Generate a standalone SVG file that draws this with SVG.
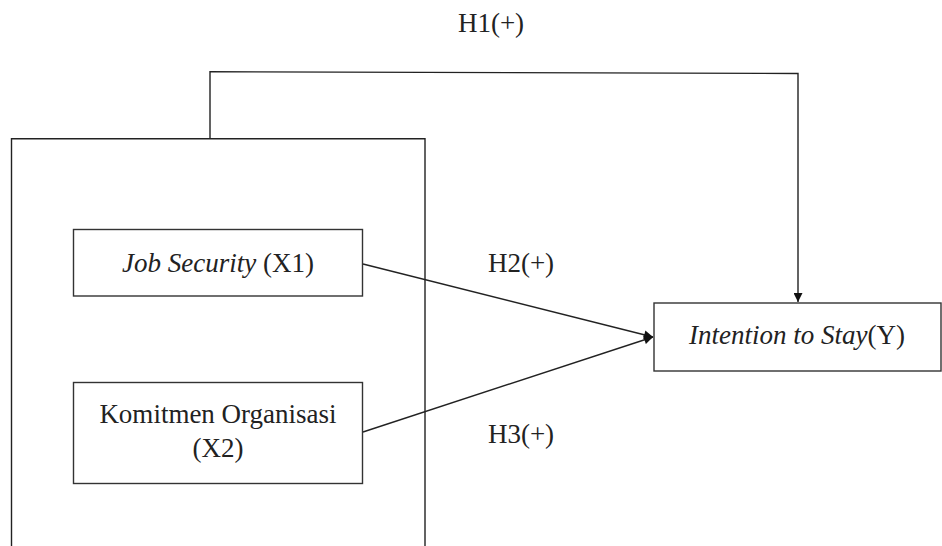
<svg xmlns="http://www.w3.org/2000/svg" width="942" height="546" viewBox="0 0 942 546">
<style>
.box{fill:#fff;stroke:#333;stroke-width:1.4}
.ln{fill:none;stroke:#222;stroke-width:1.4}
.t{font-family:"Liberation Serif","Times New Roman",serif;font-size:27px;fill:#222;text-anchor:middle}
.i{font-style:italic}
</style>
<defs>
<marker id="ah" viewBox="0 0 10 10" refX="10" refY="5" markerWidth="10" markerHeight="9" markerUnits="userSpaceOnUse" orient="auto">
<path d="M0,0 L10,5 L0,10 z" fill="#111"/>
</marker>
</defs>
<g id="group-outer">
<path class="ln" d="M11.5,546 V138.7 H425 V546"/>
</g>
<g id="connectors">
<path class="ln" d="M210,138.7 V71.7 L798,73.5 V302" marker-end="url(#ah)"/>
<path class="ln" d="M363,264 L653,337" marker-end="url(#ah)"/>
<path class="ln" d="M363,432 L653,337" marker-end="url(#ah)"/>
</g>
<g id="node-x1">
<rect class="box" x="73.5" y="229.5" width="289" height="66.5"/>
<text class="t" x="218" y="272"><tspan class="i">Job Security</tspan> (X1)</text>
</g>
<g id="node-x2">
<rect class="box" x="73.5" y="382.5" width="289" height="101"/>
<text class="t" x="218" y="423">Komitmen Organisasi</text>
<text class="t" x="218" y="457">(X2)</text>
</g>
<g id="node-y">
<rect class="box" x="654" y="303" width="287" height="68"/>
<text class="t" x="797" y="344"><tspan class="i">Intention to Stay</tspan>(Y)</text>
</g>
<g id="labels">
<text class="t" x="491" y="32">H1(+)</text>
<text class="t" x="521" y="272">H2(+)</text>
<text class="t" x="521" y="443">H3(+)</text>
</g>
</svg>
